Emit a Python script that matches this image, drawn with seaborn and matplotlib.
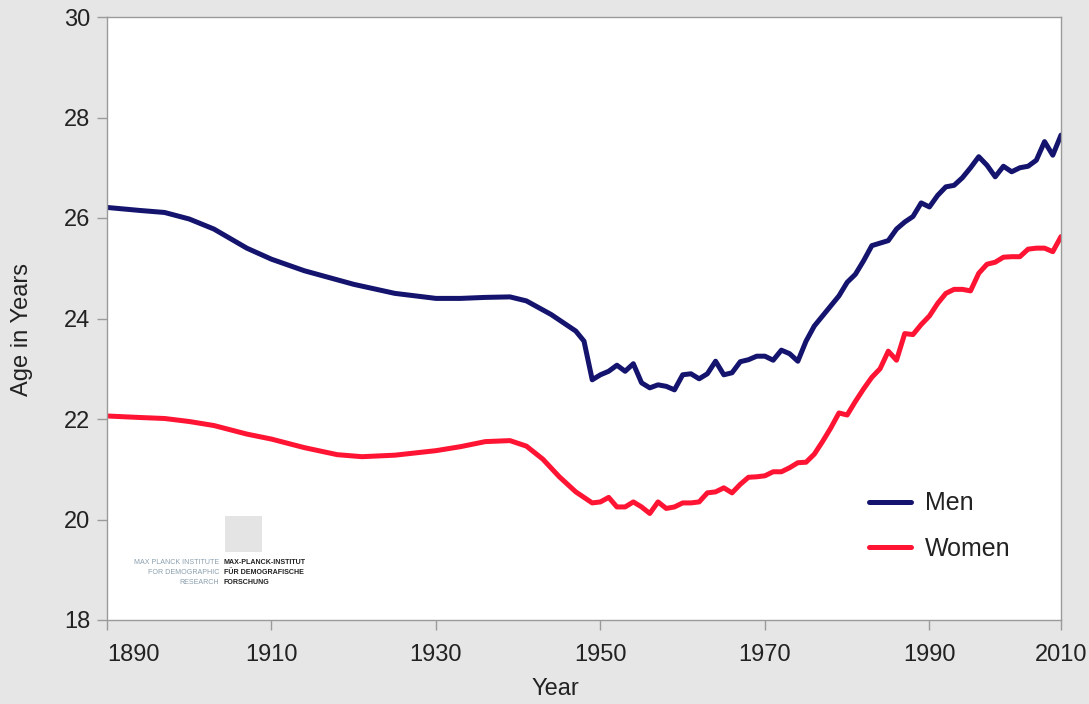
import matplotlib
matplotlib.use("Agg")
import matplotlib.pyplot as plt
import seaborn as sns
import pandas as pd

# ---- data ----
men_years = [1890, 1894, 1897, 1900, 1903, 1907, 1910, 1914, 1920, 1925, 1930, 1933, 1936,
             1939, 1941, 1944, 1947, 1948, 1949, 1950, 1951, 1952, 1953, 1954, 1955, 1956,
             1957, 1958, 1959, 1960, 1961, 1962, 1963, 1964, 1965, 1966, 1967, 1968, 1969,
             1970, 1971, 1972, 1973, 1974, 1975, 1976, 1977, 1978, 1979, 1980, 1981, 1982,
             1983, 1984, 1985, 1986, 1987, 1988, 1989, 1990, 1991, 1992, 1993, 1994, 1995,
             1996, 1997, 1998, 1999, 2000, 2001, 2002, 2003, 2004, 2005, 2006]
men_age = [26.21, 26.15, 26.11, 25.98, 25.78, 25.40, 25.18, 24.95, 24.68, 24.50, 24.40, 24.40,
           24.42, 24.43, 24.35, 24.08, 23.75, 23.55, 22.78, 22.88, 22.95, 23.07, 22.95, 23.10,
           22.72, 22.62, 22.68, 22.65, 22.58, 22.88, 22.90, 22.80, 22.90, 23.15, 22.88, 22.92,
           23.14, 23.18, 23.25, 23.25, 23.17, 23.37, 23.30, 23.15, 23.55, 23.85, 24.05, 24.25,
           24.45, 24.72, 24.88, 25.15, 25.45, 25.50, 25.55, 25.78, 25.92, 26.03, 26.30, 26.22,
           26.45, 26.62, 26.65, 26.80, 27.00, 27.22, 27.05, 26.82, 27.03, 26.92, 27.00, 27.03,
           27.15, 27.52, 27.25, 27.65]

women_years = [1890, 1894, 1897, 1900, 1903, 1907, 1910, 1914, 1918, 1921, 1925, 1930, 1933,
               1936, 1939, 1941, 1943, 1945, 1947, 1949, 1950, 1951, 1952, 1953, 1954, 1955,
               1956, 1957, 1958, 1959, 1960, 1961, 1962, 1963, 1964, 1965, 1966, 1967, 1968,
               1969, 1970, 1971, 1972, 1973, 1974, 1975, 1976, 1977, 1978, 1979, 1980, 1981,
               1982, 1983, 1984, 1985, 1986, 1987, 1988, 1989, 1990, 1991, 1992, 1993, 1994,
               1995, 1996, 1997, 1998, 1999, 2000, 2001, 2002, 2003, 2004, 2005, 2006]
women_age = [22.06, 22.03, 22.01, 21.95, 21.87, 21.70, 21.60, 21.43, 21.29, 21.25, 21.28, 21.37,
             21.45, 21.55, 21.57, 21.46, 21.20, 20.85, 20.55, 20.33, 20.35, 20.44, 20.25, 20.25,
             20.35, 20.25, 20.12, 20.35, 20.22, 20.25, 20.33, 20.33, 20.35, 20.53, 20.55, 20.63,
             20.53, 20.70, 20.84, 20.85, 20.87, 20.95, 20.95, 21.03, 21.13, 21.14, 21.30, 21.55,
             21.82, 22.12, 22.08, 22.35, 22.60, 22.83, 23.00, 23.35, 23.17, 23.70, 23.68, 23.88,
             24.05, 24.30, 24.50, 24.58, 24.58, 24.55, 24.90, 25.08, 25.12, 25.22, 25.23, 25.23,
             25.38, 25.40, 25.40, 25.33, 25.63]

x_tick_pos = [1890, 1910, 1930, 1950, 1970, 1990, 2006]
x_tick_labels = ["1890", "1910", "1930", "1950", "1970", "1990", "2010"]
y_ticks = [18, 20, 22, 24, 26, 28, 30]

df = pd.concat([
    pd.DataFrame({"Year": men_years, "Age": men_age, "Sex": "Men"}),
    pd.DataFrame({"Year": women_years, "Age": women_age, "Sex": "Women"}),
], ignore_index=True)

# ---- style ----
sns.set_style("white")
plt.rcParams["font.family"] = ["Liberation Sans", "DejaVu Sans"]
bg = "#e6e6e6"
txt = "#222222"
spine_c = "#9a9a9a"

fig = plt.figure(figsize=(10.89, 7.04), dpi=100, facecolor=bg)
ax = fig.add_axes([107 / 1089, 1 - 620 / 704, (1061 - 107) / 1089, (620 - 17) / 704])
ax.set_facecolor("white")

palette = {"Men": "#14146e", "Women": "#ff1433"}
sns.lineplot(data=df, x="Year", y="Age", hue="Sex", palette=palette, linewidth=3.6,
             ax=ax, legend=True, solid_capstyle="round", solid_joinstyle="round")

ax.set_xlim(1890, 2006)
ax.set_ylim(18, 30)
ax.set_yticks(y_ticks)
ax.set_yticklabels([str(v) for v in y_ticks])
ax.set_xticks(x_tick_pos)
ax.set_xticklabels(x_tick_labels)
lbls = ax.get_xticklabels()
lbls[0].set_horizontalalignment("left")

for s in ax.spines.values():
    s.set_color(spine_c)
    s.set_linewidth(1.0)
ax.tick_params(axis="both", which="major", direction="out", length=7, width=1,
               color=spine_c, labelsize=17, labelcolor=txt, pad=5,
               bottom=True, left=True)
ax.tick_params(axis="x", pad=10)

ax.set_xlabel("Year", fontsize=17, color=txt, va="center")
ax.set_ylabel("Age in Years", fontsize=17, color=txt, va="center")
ax.xaxis.set_label_coords((555 - 107) / (1061 - 107), -(689 - 620) / (620 - 17))
ax.yaxis.set_label_coords(-(107 - 22) / (1061 - 107), 1 - (330 - 17) / 603)

leg = ax.legend(loc="center left", bbox_to_anchor=((846 - 107) / 954, 1 - (526 - 17) / 603),
                frameon=False, fontsize=18, handlelength=1.7, handletextpad=0.55,
                labelspacing=0.85, title=None)
for t in leg.get_texts():
    t.set_color(txt)
for h in leg.get_lines():
    h.set_linewidth(3.6)

# institute logo text
logo_blue = "#8a9fae"
fy = [563, 573, 583]
en = ["MAX PLANCK INSTITUTE", "FOR DEMOGRAPHIC", "RESEARCH"]
de = ["MAX-PLANCK-INSTITUT", "FÜR DEMOGRAFISCHE", "FORSCHUNG"]
for yy, a, b in zip(fy, en, de):
    fig.text(219 / 1089, 1 - yy / 704, a, fontsize=5.1, color=logo_blue, ha="right", va="center")
    fig.text(224 / 1089, 1 - yy / 704, b, fontsize=5.1, color="#222222", ha="left", va="center",
             fontweight="bold")
logo_ax = fig.add_axes([225 / 1089, 1 - 552 / 704, 37 / 1089, 36 / 704])
logo_ax.set_facecolor("#e4e4e4")
logo_ax.set_xticks([])
logo_ax.set_yticks([])
for s in logo_ax.spines.values():
    s.set_visible(False)

fig.savefig("out.png", dpi=100, facecolor=bg)
